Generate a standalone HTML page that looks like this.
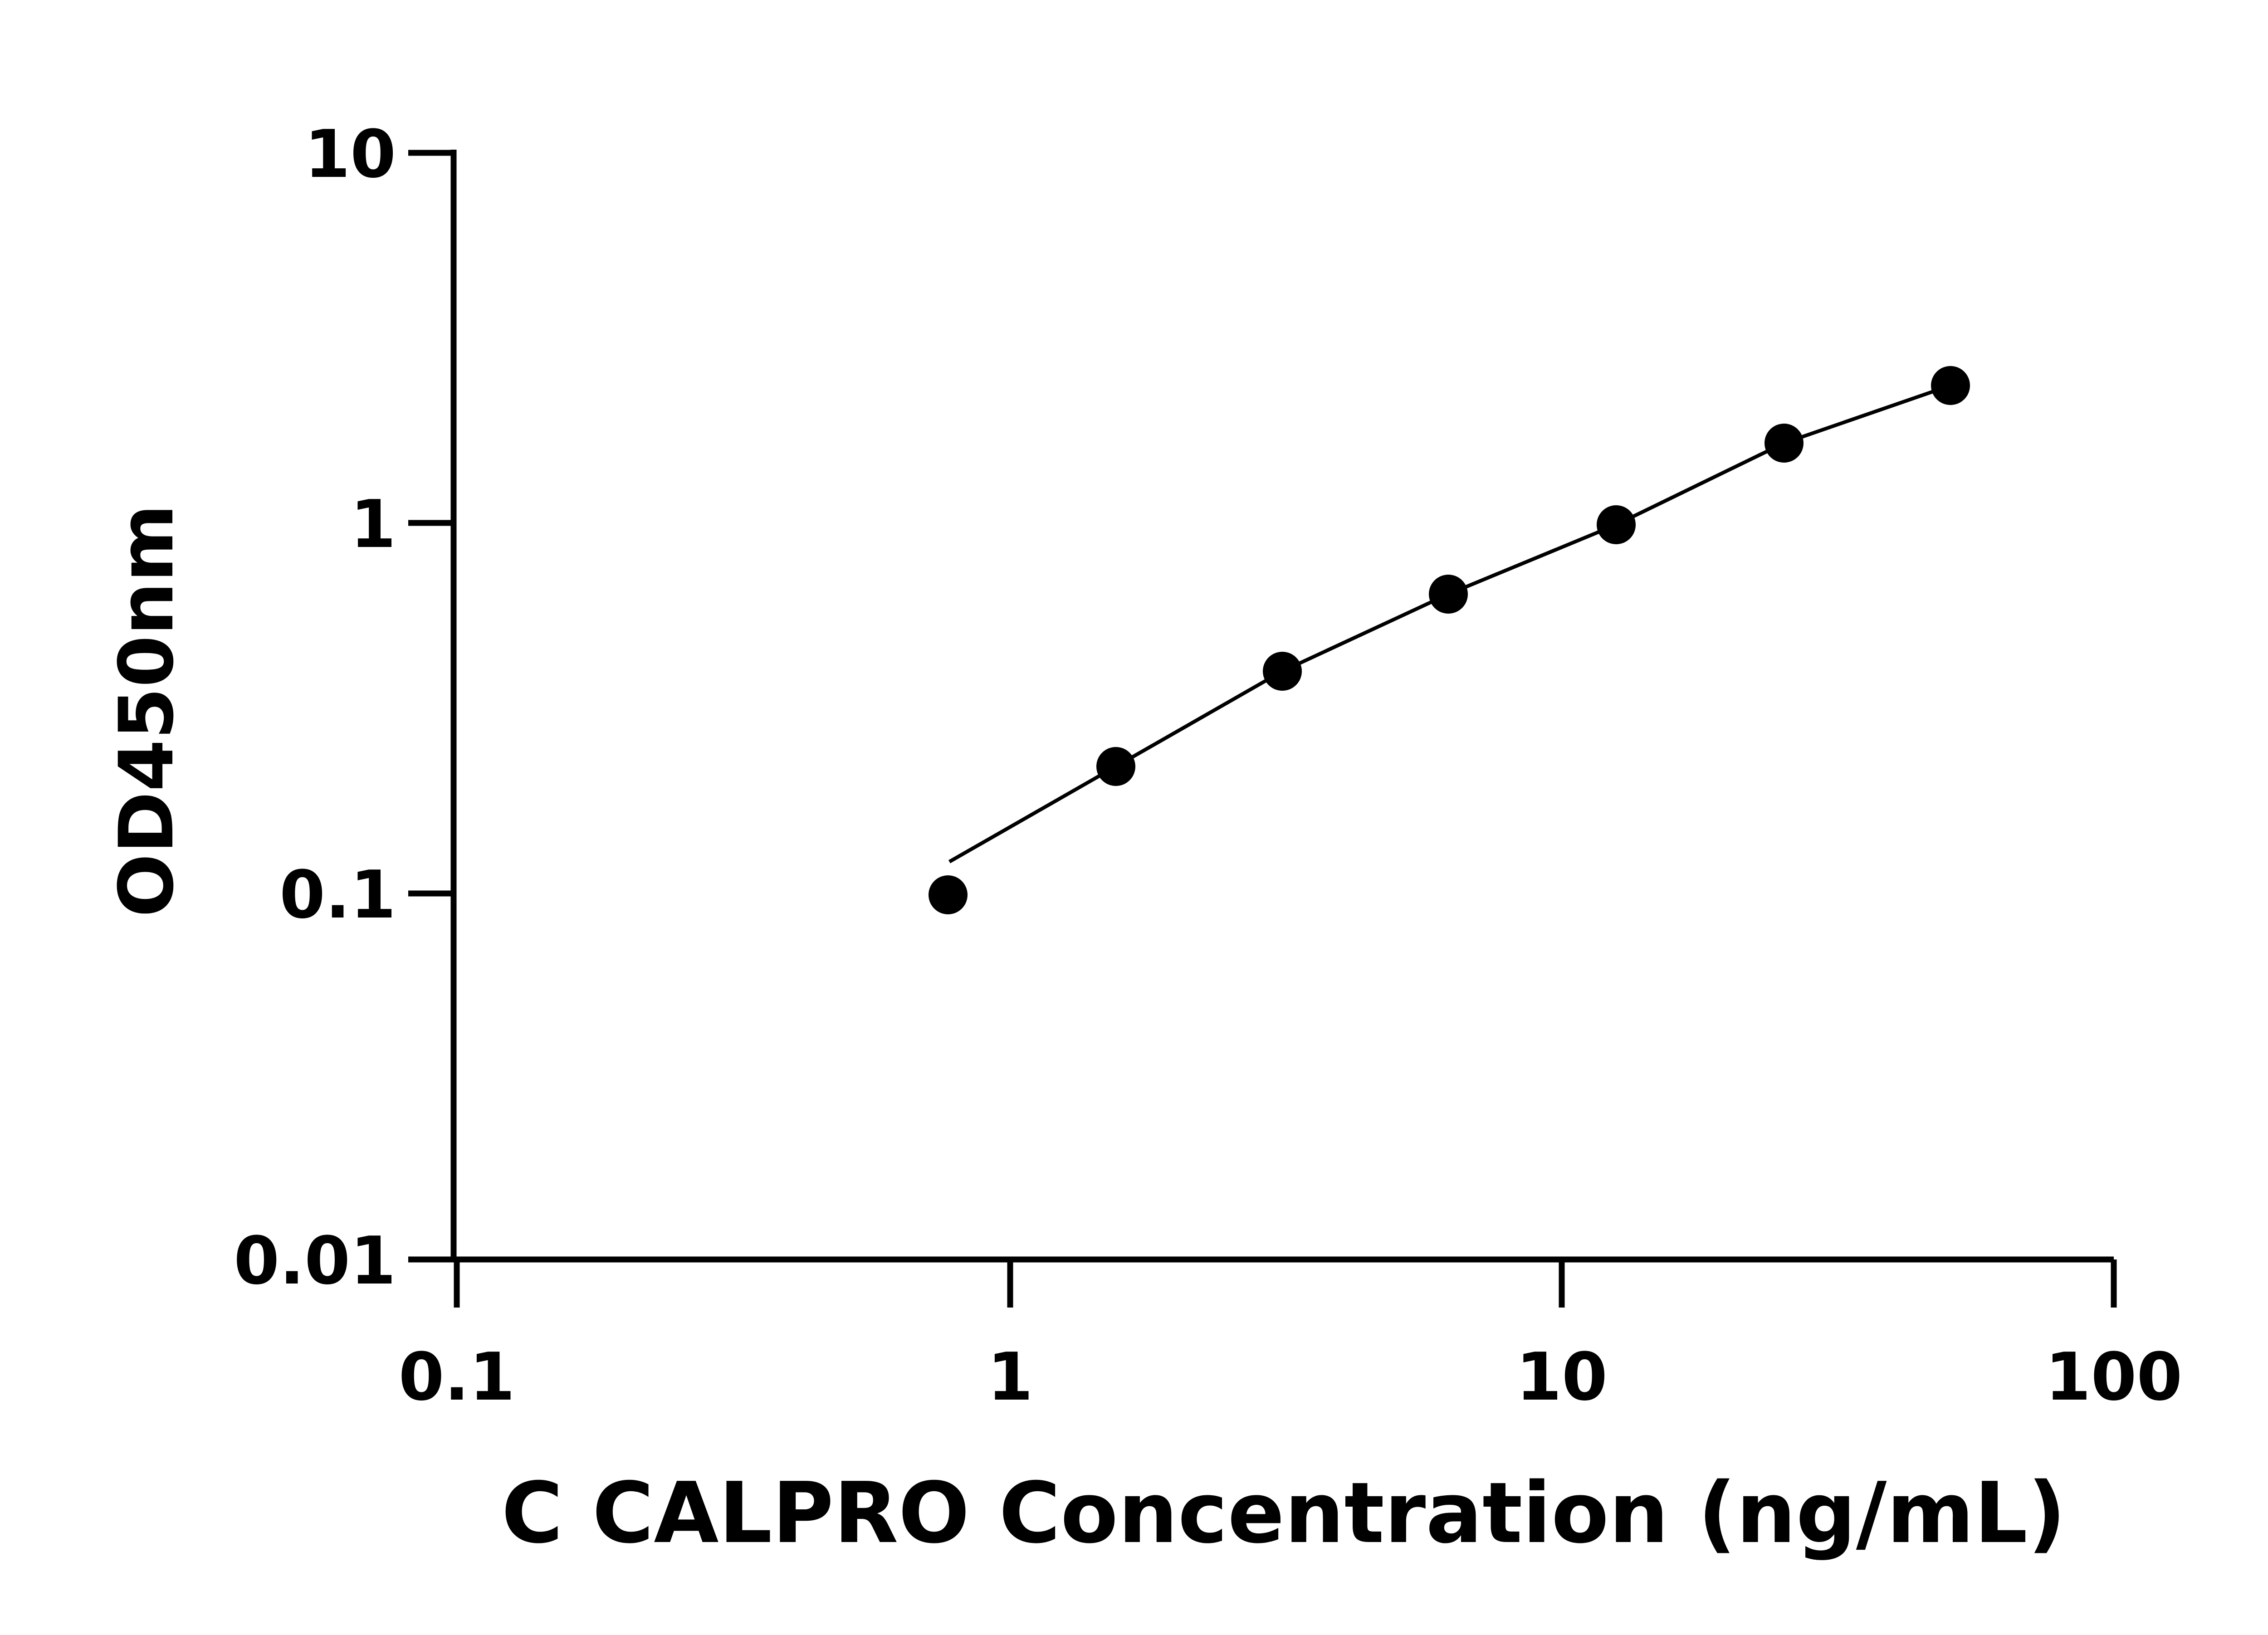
<!DOCTYPE html>
<html><head><style>html,body{margin:0;padding:0;background:#fff}</style></head>
<body>
<svg width="5142" height="3600" viewBox="0 0 5142 3600" xmlns="http://www.w3.org/2000/svg">
<g stroke="#000" stroke-width="13" fill="none" stroke-linecap="butt">
<line x1="1000" y1="330" x2="1000" y2="2783"/>
<line x1="994" y1="2777" x2="4660" y2="2777"/>
<line x1="900" y1="337" x2="1000" y2="337"/>
<line x1="900" y1="1153" x2="1000" y2="1153"/>
<line x1="900" y1="1970" x2="1000" y2="1970"/>
<line x1="900" y1="2777" x2="1000" y2="2777"/>
<line x1="1007" y1="2777" x2="1007" y2="2883"/>
<line x1="2227" y1="2777" x2="2227" y2="2883"/>
<line x1="3443" y1="2777" x2="3443" y2="2883"/>
<line x1="4660" y1="2777" x2="4660" y2="2883"/>
</g>
<polyline fill="none" stroke="#000" stroke-width="8" points="2093,1900 2460,1690 2827,1480 3193,1310 3563,1157 3933,977 4300,850"/>
<g fill="#000">
<circle cx="2090" cy="1973" r="43"/><circle cx="2460" cy="1690" r="43"/>
<circle cx="2827" cy="1480" r="43"/><circle cx="3193" cy="1310" r="43"/>
<circle cx="3563" cy="1157" r="43"/><circle cx="3933" cy="977" r="43"/>
<circle cx="4300" cy="850" r="43"/>
</g>
<g font-family="'DejaVu Sans','Liberation Sans',sans-serif" font-weight="bold" font-size="145" fill="#000">
<g text-anchor="end">
<text x="873" y="390">10</text>
<text x="873" y="1206">1</text>
<text x="873" y="2023">0.1</text>
<text x="873" y="2830">0.01</text>
</g>
<g text-anchor="middle">
<text x="1007" y="3086">0.1</text>
<text x="2227" y="3086">1</text>
<text x="3443" y="3086">10</text>
<text x="4660" y="3086">100</text>
</g>
<text x="2830" y="3400" text-anchor="middle" font-size="185">C CALPRO Concentration (ng/mL)</text>
<text transform="translate(380,1567) rotate(-90)" text-anchor="middle" font-size="165">OD450nm</text>
</g>
</svg>
</body></html>
